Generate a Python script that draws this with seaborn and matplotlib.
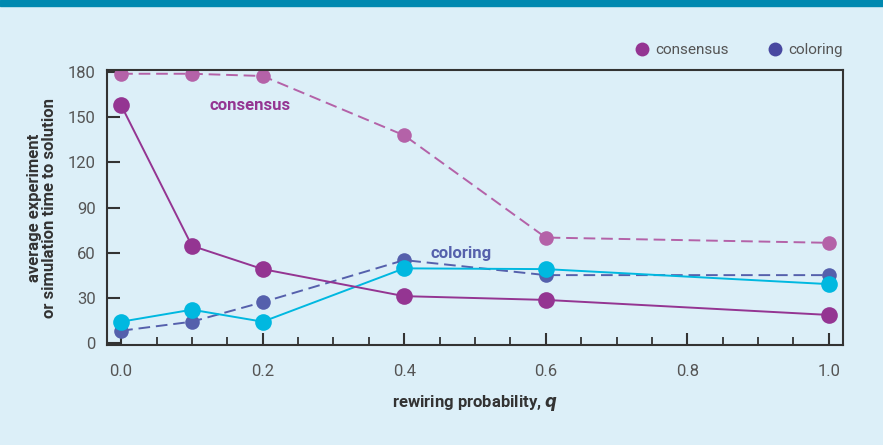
import pandas as pd
import matplotlib.pyplot as plt
import seaborn as sns
from matplotlib.lines import Line2D
from matplotlib.ticker import MultipleLocator

q = [0.0, 0.1, 0.2, 0.4, 0.6, 1.0]
consensus_exp = [179, 179, 177.5, 138, 70, 66.5]
consensus_sim = [158, 64.5, 49, 31, 28.5, 18.5]
coloring_exp = [8, 14, 27, 55, 45, 45]
coloring_sim = [14, 22, 14, 49.5, 49, 39]

bg = '#dceff8'
purple = '#943592'
purple_light = '#b462a8'
blue = '#5560ac'
cyan = '#00b8e0'

sns.set_theme(style='ticks')
plt.rcParams['font.family'] = ['Roboto', 'DejaVu Sans']

fig = plt.figure(figsize=(8.83, 4.45), dpi=100, facecolor=bg)
ax = fig.add_axes([107/883, 1 - 345/445, 736/883, 275/445])
ax.set_facecolor(bg)

# top band
fig.patches.append(plt.Rectangle((0, 1 - 6/445), 1, 6/445, transform=fig.transFigure,
                                 color='#0089b0', zorder=0))

series = [
    (consensus_exp, purple_light, (6, 3), 10.5),
    (coloring_exp, blue, (6, 3), 10.5),
    (coloring_sim, cyan, None, 12),
    (consensus_sim, purple, None, 12),
]
for vals, col, dash, ms in series:
    df = pd.DataFrame({'q': q, 'time': vals})
    sns.lineplot(data=df, x='q', y='time', ax=ax, color=col, lw=1.4,
                 marker='o', markersize=ms, markeredgewidth=0)
    if dash:
        ax.lines[-1].set_dashes(dash)

ax.set_xlim(-0.02, 1.02)
ax.set_ylim(-1.5, 181.5)
ax.set_yticks([0, 30, 60, 90, 120, 150, 180])
ax.set_xticks([0.0, 0.2, 0.4, 0.6, 0.8, 1.0])
ax.set_xticklabels(['0.0', '0.2', '0.4', '0.6', '0.8', '1.0'])
ax.xaxis.set_minor_locator(MultipleLocator(0.05))

for s in ax.spines.values():
    s.set_color('#333333')
    s.set_linewidth(1.5)
ax.tick_params(axis='both', which='major', direction='in', length=9, width=1.5,
               color='#333333', labelsize=12, labelcolor='#555555', pad=8)
ax.tick_params(axis='x', which='minor', direction='in', length=6, width=1.3, color='#333333')
ax.tick_params(axis='x', which='major', pad=14)

ax.set_ylabel('average experiment\nor simulation time to solution', fontsize=12,
              fontweight='bold', color='#333333', labelpad=8, linespacing=0.95)
ax.set_xlabel(r'rewiring probability, $\mathbfit{q}$', fontsize=12,
              fontweight='bold', color='#333333', labelpad=10)

ax.text(0.182, 158, 'consensus', color=purple, fontsize=12, fontweight='bold',
        ha='center', va='center')
ax.text(0.48, 59.5, 'coloring', color=blue, fontsize=12, fontweight='bold',
        ha='center', va='center')

handles = [Line2D([], [], ls='', marker='o', markersize=10, color='#943592', markeredgewidth=0),
           Line2D([], [], ls='', marker='o', markersize=10, color='#4848a0', markeredgewidth=0)]
fig.legend(handles, ['consensus', 'coloring'], loc='center right',
           bbox_to_anchor=(857/883, 1 - 50/445), ncol=2, frameon=False,
           fontsize=11, labelcolor='#555555', handletextpad=0.3, columnspacing=2.4,
           handlelength=1.2)

fig.savefig('out.png', dpi=100, facecolor=bg)
